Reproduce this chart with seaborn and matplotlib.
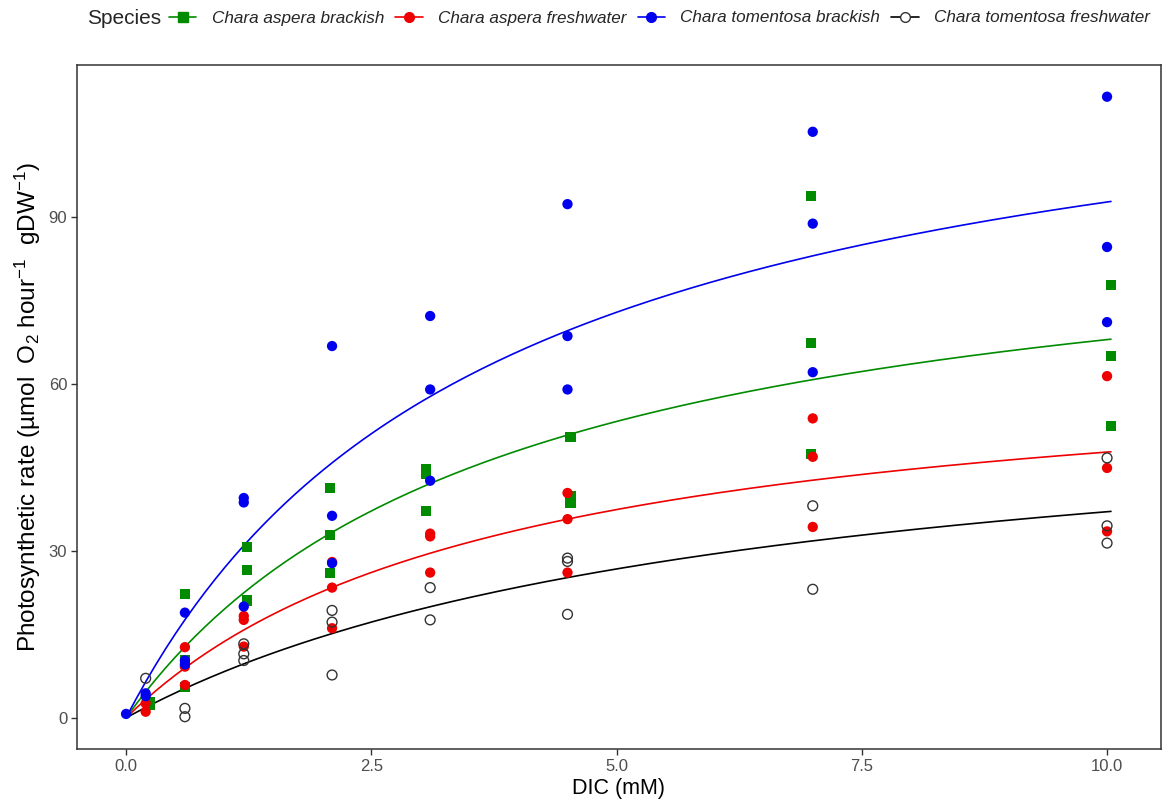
import numpy as np
import pandas as pd
import matplotlib
matplotlib.use("Agg")
import matplotlib.pyplot as plt
from matplotlib.lines import Line2D
import seaborn as sns

asp_br_x = [0.24, 0.24, 0.6, 0.6, 0.6, 1.23, 1.23, 1.23, 2.08, 2.08, 2.08,
            3.06, 3.06, 3.06, 4.53, 4.53, 4.53, 6.98, 6.98, 6.98, 10.04, 10.04, 10.04]
asp_br_y = [2.9, 2.4, 22.2, 10.3, 5.6, 30.7, 26.5, 21.1, 41.3, 32.9, 26.0,
            44.6, 43.9, 37.2, 50.4, 39.8, 38.6, 93.8, 67.4, 47.4, 77.8, 65.0, 52.4]

asp_fw_x = [0.2, 0.2, 0.6, 0.6, 0.6, 1.2, 1.2, 1.2, 2.1, 2.1, 2.1,
            3.1, 3.1, 3.1, 4.5, 4.5, 4.5, 7.0, 7.0, 7.0, 10.0, 10.0, 10.0]
asp_fw_y = [2.6, 1.1, 12.7, 9.2, 5.9, 18.3, 17.6, 12.8, 28.0, 23.4, 16.1,
            33.1, 32.6, 26.1, 40.4, 35.7, 26.1, 53.8, 46.9, 34.3, 61.4, 44.9, 33.5]

tom_br_x = [0.0, 0.2, 0.2, 0.6, 0.6, 0.6, 1.2, 1.2, 1.2, 2.1, 2.1, 2.1,
            3.1, 3.1, 3.1, 4.5, 4.5, 4.5, 7.0, 7.0, 7.0, 10.0, 10.0, 10.0]
tom_br_y = [0.7, 4.4, 3.9, 18.9, 10.3, 9.6, 39.5, 38.7, 20.0, 66.8, 36.3, 27.8,
            72.2, 59.0, 42.6, 92.3, 68.6, 59.0, 105.3, 88.8, 62.1, 111.6, 84.6, 71.1]

tom_fw_x = [0.2, 0.6, 0.6, 1.2, 1.2, 1.2, 2.1, 2.1, 2.1, 3.1, 3.1,
            4.5, 4.5, 4.5, 7.0, 7.0, 10.0, 10.0, 10.0]
tom_fw_y = [7.1, 1.7, 0.2, 13.3, 11.5, 10.3, 19.3, 17.2, 7.7, 23.4, 17.6,
            28.7, 28.1, 18.6, 38.1, 23.1, 46.7, 34.5, 31.4]

species = ["Chara aspera brackish", "Chara aspera freshwater",
           "Chara tomentosa brackish", "Chara tomentosa freshwater"]
colors = ["#008B00", "#EE0000", "#0000EE", "black"]

frames = []
for sp, xs, ys in zip(species, [asp_br_x, asp_fw_x, tom_br_x, tom_fw_x],
                      [asp_br_y, asp_fw_y, tom_br_y, tom_fw_y]):
    frames.append(pd.DataFrame({"DIC": xs, "rate": ys, "Species": sp}))
df = pd.concat(frames, ignore_index=True)


# Michaelis-Menten fit  rate = Vmax*DIC/(K+DIC), least squares over a grid of K
def mm_fit(x, y):
    x = np.asarray(x)
    y = np.asarray(y)
    best = None
    for K in np.linspace(0.05, 30, 3000):
        f = x / (K + x)
        V = (f * y).sum() / (f * f).sum()
        sse = ((y - V * f) ** 2).sum()
        if best is None or sse < best[0]:
            best = (sse, V, K)
    return best[1], best[2]


curves = []
xx = np.linspace(0, 10.04, 200)
for sp in species:
    sub = df[df["Species"] == sp]
    V, K = mm_fit(sub["DIC"], sub["rate"])
    curves.append(pd.DataFrame({"DIC": xx, "rate": V * xx / (K + xx), "Species": sp}))
fit = pd.concat(curves, ignore_index=True)

sns.set_theme(style="white")
plt.rcParams["font.family"] = ["Liberation Sans", "DejaVu Sans"]
plt.rcParams["mathtext.default"] = "regular"

fig = plt.figure(figsize=(11.7, 8.1), dpi=100)
ax = fig.add_axes([77 / 1170, 61 / 810, (1161 - 77) / 1170, (749 - 65) / 810])

pal = dict(zip(species, colors))
sns.lineplot(data=fit, x="DIC", y="rate", hue="Species", palette=pal,
             linewidth=1.2, legend=False, ax=ax, zorder=2)

filled = df[df["Species"] != species[3]]
sns.scatterplot(data=filled, x="DIC", y="rate", hue="Species", style="Species",
                palette=pal, markers={species[0]: "s", species[1]: "o", species[2]: "o"},
                s=55, linewidth=0, legend=False, ax=ax, zorder=3)
opn = df[df["Species"] == species[3]]
ax.scatter(opn["DIC"], opn["rate"], s=50, facecolors="none", edgecolors="#333333",
           linewidths=1.0, zorder=4)

ax.set_xlim(-0.5, 10.55)
ax.set_ylim(-5.6, 117.3)
ax.set_xticks([0, 2.5, 5, 7.5, 10])
ax.set_xticklabels(["0.0", "2.5", "5.0", "7.5", "10.0"])
ax.set_yticks([0, 30, 60, 90])
ax.tick_params(axis="both", length=4, width=1, color="#333333",
               labelsize=12, labelcolor="#4D4D4D", pad=3, bottom=True, left=True)
for s in ax.spines.values():
    s.set_color("#333333")
    s.set_linewidth(1.1)

ax.set_xlabel("DIC (mM)", fontsize=15.5, color="black", labelpad=3)
ax.set_ylabel("Photosynthetic rate (µmol  O$_2$ hour$^{-1}$  gDW$^{-1}$)",
              fontsize=17.5, color="black", labelpad=4)

handles = []
for sp, c in zip(species, colors):
    if sp == species[0]:
        h = Line2D([], [], color=c, marker="s", markersize=7, linewidth=1.2)
    elif sp == species[3]:
        h = Line2D([], [], color=c, marker="o", markersize=7, linewidth=1.2,
                   markerfacecolor="white", markeredgecolor="#333333")
    else:
        h = Line2D([], [], color=c, marker="o", markersize=7, linewidth=1.2)
    handles.append(h)

fig.text(87 / 1170, 1 - 18 / 810, "Species", fontsize=15, va="center", ha="left")
leg = fig.legend(handles, species, loc="center left", ncol=4,
                 bbox_to_anchor=(169 / 1170, 1 - 18 / 810), frameon=False,
                 handlelength=1.6, handletextpad=0.9, columnspacing=0.65,
                 borderaxespad=0, borderpad=0, prop={"size": 12.3, "style": "italic"})

fig.savefig("out.png", dpi=100)
